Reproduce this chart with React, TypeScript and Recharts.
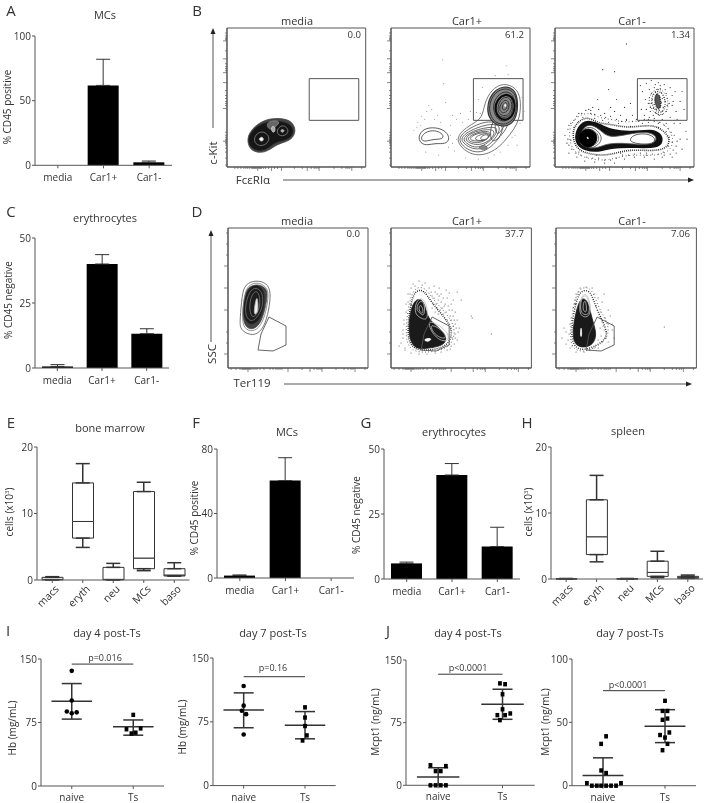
import React from "react";
import {
  BarChart, Bar, ComposedChart, Line, ScatterChart, Scatter, XAxis, YAxis, ErrorBar, ReferenceArea, ReferenceLine,
} from "recharts";

type Pt = [number, number];

const FONT = "'Open Sans', sans-serif";
const INK = "#333";
const AXIS = "#555";

// ---- bar panels
const treatments = ["media", "Car1+", "Car1-"];
const mcsAValues = [0, 61.8, 2.3];
const mcsATops = [0, 82, 3.3];
const eryCValues = [0.6, 40, 13.2];
const eryCTops = [1.3, 43.6, 15.1];
const mcsFValues = [1.5, 60.4, 0];
const mcsFTops = [1.9, 74.6, 0];
const eryGValues = [6, 40, 12.5];
const eryGTops = [6.5, 44.4, 19.9];

// ---- box panels
const cellTypes = ["macs", "eryth", "neu", "MCs", "baso"];
const marrowMin = [0, 4.9, 0, 1.4, 0.6];
const marrowQ1 = [0.03, 6.3, 0.03, 1.7, 0.6];
const marrowMedian = [0.1, 8.8, 0.1, 3.3, 0.75];
const marrowQ3 = [0.4, 14.6, 1.9, 13.3, 1.7];
const marrowMax = [0.5, 17.5, 2.5, 14.7, 2.6];
const spleenMin = [0, 2.6, 0, 0.2, 0.1];
const spleenQ1 = [0, 3.7, 0, 0.4, 0.12];
const spleenMedian = [0.03, 6.4, 0.03, 1, 0.2];
const spleenQ3 = [0.06, 12, 0.06, 2.7, 0.4];
const spleenMax = [0.06, 15.7, 0.06, 4.2, 0.6];

// ---- dot panels: [group position with jitter, value]
const hb4Naive: Pt[] = [[1, 136], [1, 101], [0.92, 88], [1, 86], [1.08, 87]];
const hb4Ts: Pt[] = [[2, 84], [1.89, 67], [1.97, 62], [2.04, 63], [2.12, 68]];
const hb7Naive: Pt[] = [[1, 117], [1, 94], [0.97, 88], [1.04, 84], [1, 60]];
const hb7Ts: Pt[] = [[2, 92], [2, 80], [2, 70], [2.03, 59], [1.96, 53]];
const mcpt4Naive: Pt[] = [[0.88, 24], [1.12, 23], [0.96, 17], [1.04, 17], [0.88, 0], [0.96, 0], [1.04, 0], [1.12, 0]];
const mcpt4Ts: Pt[] = [[1.96, 122], [2.04, 121], [2, 109], [2, 91], [1.92, 84], [1.96, 78], [2.04, 84], [2.12, 86]];
const mcpt7Naive: Pt[] = [
  [1.05, 39], [0.97, 33], [0.97, 12], [1.05, 10], [0.74, 2], [1.29, 2],
  [0.82, 0], [0.9, 0], [0.97, 0], [1.05, 0], [1.13, 0], [1.21, 0],
];
const mcpt7Ts: Pt[] = [
  [2, 67], [1.96, 59], [2.04, 59], [1.96, 52], [2.04, 53], [2.07, 42], [1.92, 40], [2, 38], [2.04, 33], [1.96, 28],
];
// mean, sd below, sd above
const hb4Summary = [[100, 21, 21], [70, 10, 8]];
const hb7Summary = [[89, 21, 20], [71, 16, 16]];
const mcpt4Summary = [[10, 10, 11], [97, 18, 18]];
const mcpt7Summary = [[8, 8, 14], [47, 13, 13]];

// ---- flow panels, read along the axes (0..140, y from the top)
const flowGate = [83, 133, 51, 93];
const bXTicks = [8, 11, 14, 17, 19, 21, 23, 25, 26, 27, 28, 29, 30, 31, 32, 33, 34, 35, 37, 39, 42, 45, 48, 51, 55, 68, 76, 81, 85, 88, 90, 92, 93, 108, 116, 120, 122, 124, 126, 136];
const bYTicks = [5, 8, 10, 11, 12, 13, 23, 31, 36, 39, 41, 43, 45, 55, 63, 68, 71, 74, 76, 78, 81, 105, 108, 110, 112, 113, 114, 115, 116, 118, 121, 125, 131, 138];
const bMajors = [31, 55, 93, 126, 13, 45, 81, 114];
const dXTicks = [3, 8, 12, 14, 15, 16, 17, 18, 19, 20, 21, 22, 23, 25, 27, 29, 32, 36, 42, 45, 48, 50, 52, 54, 60, 74, 82, 86, 89, 91, 93, 94, 108, 116, 120, 123, 125, 127, 137];
const dYTicks = [5, 16, 27, 38, 60, 82, 104, 115, 126];
const dMajors = [20, 60, 94, 127, 38, 82, 126];
const ssclGate: Pt[] = [[41, 89], [58, 98], [58, 117], [45, 123], [30, 122], [33, 106]];

const bMediaOuter: Pt[] = [[20, 112], [24, 103], [33, 95], [44, 91], [56, 91], [66, 94], [70, 104], [65, 113], [54, 116], [48, 119], [41, 124], [33, 126], [23, 123]];
const bMediaMid: Pt[] = [[21, 112], [25, 104], [33, 97], [45, 94], [55, 94], [64, 97], [68, 104], [63, 112], [52, 114], [46, 117], [40, 122], [33, 124], [24, 121]];
const bMediaRingL: Pt[] = [[27, 112], [30, 106], [36, 104], [41, 107], [43, 112], [40, 117], [34, 119], [29, 117]];
const bMediaCoreL: Pt[] = [[32, 112], [34, 110], [36, 110], [37, 112], [36, 114], [34, 114]];
const bMediaRingR: Pt[] = [[50, 104], [53, 99], [58, 98], [62, 102], [61, 107], [56, 109], [52, 108]];
const bMediaCoreR: Pt[] = [[54, 103], [56, 102], [58, 103], [57, 105], [55, 105]];
const bMediaBridge: Pt[] = [[44, 100], [48, 98], [49, 104], [46, 106]];
const bMediaGrey: Pt[] = [[40, 96], [46, 93], [54, 94], [50, 99], [44, 103], [41, 100]];

const bPlusSmallOuter: Pt[] = [[27, 111], [31, 103], [39, 100], [50, 101], [57, 106], [59, 112], [55, 117], [45, 116], [37, 118], [31, 117]];
const bPlusSmallInner: Pt[] = [[30, 111], [33, 106], [40, 103], [48, 104], [53, 108], [52, 112], [43, 112], [36, 114], [32, 114]];
const bPlusOuter: Pt[] = [[66, 112], [71, 104], [81, 97], [92, 91], [94, 76], [101, 62], [113, 55], [126, 60], [131, 71], [130, 90], [124, 102], [116, 112], [108, 121], [95, 128], [82, 128], [71, 121]];
const bPlusLow: Pt[][] = [
  [[68, 112], [73, 105], [83, 99], [95, 94], [108, 95], [113, 99], [111, 108], [103, 118], [93, 125], [82, 125], [72, 119]],
  [[70, 112], [75, 106], [85, 101], [97, 97], [107, 97], [110, 101], [107, 109], [100, 117], [92, 122], [82, 122], [74, 117]],
  [[72, 112], [78, 106], [88, 102], [98, 100], [106, 100], [107, 103], [104, 110], [97, 116], [90, 120], [82, 120], [76, 116]],
  [[74, 112], [80, 106], [90, 103], [100, 102], [105, 104], [102, 111], [95, 116], [87, 118], [79, 116]],
  [[76, 112], [82, 107], [91, 104], [100, 104], [100, 109], [94, 114], [87, 116], [81, 115]],
  [[78, 112], [84, 107], [93, 105], [100, 106], [98, 111], [92, 114], [84, 114]],
  [[83, 112], [88, 108], [95, 106], [99, 107], [96, 112], [90, 114]],
  [[100, 98], [106, 90], [114, 88], [120, 92], [116, 102], [108, 112], [100, 116]],
  [[104, 96], [108, 92], [116, 92], [114, 100], [106, 110]],
];
const bPlusLowCore: Pt[] = [[89, 111], [94, 107], [99, 108], [97, 112], [92, 113]];
const bPlusLowPatch: Pt[] = [[87, 121], [93, 117], [99, 121], [93, 123]];
const bPlusUpperBase: Pt[] = [[96, 82], [101, 65], [113, 58], [124, 61], [128, 72], [127, 90], [119, 99], [108, 99], [100, 93]];
const bPlusUpper: Pt[][] = [
  [[98, 82], [102, 67], [113, 60], [123, 63], [127, 72], [126, 89], [118, 97], [108, 97], [102, 92]],
  [[102, 82], [105, 70], [114, 63], [122, 66], [125, 74], [124, 87], [117, 94], [108, 94]],
  [[105, 81], [108, 71], [115, 67], [122, 70], [123, 78], [122, 86], [116, 91], [108, 89]],
  [[107, 81], [110, 72], [116, 69], [121, 72], [122, 79], [120, 86], [115, 89], [109, 87]],
  [[109, 80], [112, 74], [116, 72], [119, 75], [119, 80], [117, 84], [113, 86], [110, 84]],
  [[112, 79], [114, 75], [117, 75], [117, 80], [115, 83], [112, 82]],
];
const bPlusUpperBold: Pt[] = [[104, 82], [107, 72], [115, 66], [122, 69], [125, 76], [124, 86], [118, 93], [109, 92]];
const bPlusUpperCore: Pt[] = [[113, 78], [115, 75], [117, 78], [115, 81]];
const bPlusDots: Pt[] = [
  [27, 95], [31, 89], [36, 84], [38, 78], [41, 82], [34, 92], [30, 98], [44, 92], [50, 95], [55, 75], [53, 56], [47, 88], [60, 98],
  [62, 88], [66, 92], [72, 95], [78, 92], [26, 100], [23, 103], [35, 125], [48, 128], [58, 120], [62, 116], [64, 124], [75, 131], [88, 132],
  [98, 131], [110, 125], [118, 118], [125, 108], [130, 96], [134, 84], [132, 70], [118, 47], [116, 38], [105, 48], [92, 60], [88, 72], [86, 85],
  [52, 32], [66, 112], [60, 108], [70, 86], [80, 84], [90, 86], [122, 110], [127, 118], [104, 128],
];

const bMinusHaloOuter: Pt[] = [[13, 104], [19, 91], [33, 84], [45, 91], [58, 92], [73, 96], [97, 91], [111, 96], [121, 112], [115, 126], [97, 129], [73, 127], [53, 134], [33, 132], [17, 125]];
const bMinusHalo: Pt[] = [[17, 104], [23, 94], [33, 89], [43, 96], [57, 97], [73, 101], [97, 97], [108, 102], [117, 112], [112, 122], [97, 124], [73, 122], [53, 129], [33, 127], [20, 121]];
const bMinusBand: Pt[] = [[20, 107], [26, 96], [35, 93], [47, 98], [57, 103], [77, 105], [97, 102], [106, 106], [109, 114], [103, 121], [80, 120], [58, 120], [43, 125], [30, 123], [22, 118]];
const bMinusWhite: Pt[] = [[24, 111], [29, 99], [37, 97], [46, 103], [54, 111], [73, 107], [93, 104], [103, 109], [101, 116], [88, 118], [72, 116], [53, 116], [43, 121], [33, 121], [26, 118]];
const bMinusRings: Pt[][] = [
  [[23, 111], [28, 102], [35, 99], [43, 103], [48, 111], [44, 118], [35, 122], [27, 118]],
  [[25, 111], [29, 103], [35, 101], [42, 105], [45, 111], [42, 117], [34, 120], [28, 117]],
];
const bMinusDisc: Pt[] = [[23, 111], [27, 103], [34, 101], [41, 105], [43, 111], [40, 118], [33, 121], [27, 118]];
const bMinusCore: Pt[] = [[32, 110], [33, 110], [34, 111], [33, 112]];
const bMinusRight: Pt[] = [[75, 112], [80, 107], [93, 106], [102, 111], [99, 117], [85, 117], [77, 115]];
const bMinusCloudHalo: Pt[] = [[93, 69], [103, 59], [113, 66], [115, 82], [107, 89], [97, 84]];
const bMinusCloudMid: Pt[] = [[96, 70], [103, 62], [110, 67], [112, 80], [106, 87], [99, 81]];
const bMinusCloudCore: Pt[] = [[100, 70], [103, 65], [106, 69], [107, 79], [104, 83], [101, 77]];
const bMinusDots: Pt[] = [
  [92, 56], [97, 53], [104, 55], [110, 57], [116, 60], [121, 64], [88, 64], [91, 72], [87, 82], [90, 88], [94, 92], [100, 91], [108, 92], [116, 90], [122, 84], [126, 74],
  [119, 74], [118, 68], [95, 62], [100, 60], [106, 61], [111, 62], [94, 76], [96, 80], [111, 74], [113, 78], [112, 84], [102, 86], [105, 88], [99, 88], [92, 82], [118, 78],
  [128, 64], [130, 82], [86, 58], [123, 92], [126, 96], [120, 96], [112, 96], [104, 96], [72, 92], [66, 88], [60, 84], [56, 80], [50, 86], [44, 82], [38, 80], [34, 82],
  [78, 88], [82, 92], [70, 80], [76, 76], [62, 72], [54, 62], [43, 72], [48, 42], [60, 44], [72, 16], [126, 112], [128, 122], [122, 126], [118, 130], [108, 130], [100, 132],
  [90, 130], [80, 130], [70, 132], [60, 136], [50, 136], [40, 135], [30, 134], [22, 130], [14, 126], [12, 116], [10, 108], [14, 98], [24, 86], [132, 104], [133, 112],
  [16, 96], [19, 93], [22, 89], [27, 86], [31, 83], [36, 83], [40, 87], [46, 88], [51, 90], [56, 89], [62, 92], [67, 94], [72, 93], [78, 94], [84, 94], [90, 92], [95, 90], [100, 94],
  [105, 95], [110, 98], [114, 101], [117, 105], [120, 108], [123, 114], [122, 119], [119, 123], [116, 127], [110, 128], [104, 127], [98, 127], [92, 128], [86, 126], [80, 127], [74, 128],
  [68, 128], [62, 131], [56, 133], [50, 133], [44, 131], [38, 131], [32, 130], [26, 128], [21, 126], [17, 122], [14, 118], [13, 112], [13, 102], [36, 86], [48, 93], [64, 96], [88, 96],
  [112, 104], [118, 115], [109, 125], [92, 126], [66, 126], [42, 128], [24, 125], [16, 113], [19, 100], [28, 90], [40, 91], [54, 95], [76, 99], [94, 95], [104, 100], [115, 110], [114, 119],
  [101, 64], [104, 62], [107, 65], [99, 67], [102, 68], [105, 69], [108, 71], [98, 72], [101, 73], [104, 74], [107, 75], [110, 70], [97, 76], [100, 77], [103, 78], [106, 79], [109, 80],
  [99, 81], [102, 82], [105, 83], [108, 84], [101, 85], [104, 87], [95, 70], [97, 66], [112, 66], [113, 71], [115, 76], [96, 84], [108, 87], [106, 58], [101, 57],
];

const dMediaOuter: Pt[] = [[12, 92], [14, 67], [17, 56], [28, 52], [39, 55], [43, 64], [41, 82], [36, 100], [27, 108], [17, 105], [12, 100]];
const dMediaNext: Pt[] = [[14, 86], [17, 66], [20, 59], [29, 56], [37, 59], [40, 65], [37, 82], [32, 97], [24, 102], [17, 99]];
const dMediaDark: Pt[] = [[15, 82], [18, 64], [25, 57], [33, 58], [37, 67], [35, 84], [30, 94], [22, 97], [17, 92]];
const dMediaRings: Pt[][] = [
  [[14, 90], [16, 68], [20, 57], [29, 54], [38, 58], [41, 66], [38, 84], [33, 98], [25, 104], [16, 101]],
  [[17, 79], [21, 63], [28, 59], [35, 64], [35, 79], [29, 90], [23, 94], [18, 89]],
  [[21, 77], [24, 66], [29, 62], [32, 69], [32, 80], [27, 89], [23, 89]],
];
const dMediaCore: Pt[] = [[26, 84], [27, 76], [29, 68], [30, 75], [30, 84], [27, 87]];

const dPlusHalo: Pt[] = [[15, 109], [20, 72], [25, 62], [33, 62], [40, 74], [53, 89], [62, 102], [58, 117], [43, 122], [23, 123]];
const dPlusHaloOuter: Pt[] = [[13, 112], [18, 72], [24, 59], [34, 59], [43, 73], [57, 87], [65, 102], [60, 119], [43, 124], [22, 125]];
const dPlusDark: Pt[] = [[17, 107], [19, 82], [25, 70], [33, 72], [36, 89], [43, 96], [56, 107], [54, 117], [40, 120], [23, 122]];
const dPlusRings: Pt[][] = [
  [[23, 86], [25, 73], [31, 69], [36, 77], [37, 92], [31, 91]],
  [[25, 82], [27, 75], [31, 72], [34, 78], [33, 89], [29, 85]],
  [[27, 82], [29, 76], [32, 80], [32, 87]],
  [[37, 92], [48, 97], [58, 106], [57, 114], [47, 112], [39, 102]],
  [[39, 96], [48, 100], [55, 107], [54, 111], [47, 109], [41, 103]],
];
const dPlusCore: Pt[] = [[32, 112], [37, 110], [41, 111], [37, 114]];
const dPlusDots: Pt[] = [
  [41, 68], [44, 64], [47, 72], [50, 66], [53, 78], [56, 70], [58, 82], [60, 76], [62, 88], [64, 84], [66, 92], [68, 100], [62, 72], [55, 62], [48, 60], [52, 86],
  [46, 80], [42, 76], [60, 92], [64, 96], [61, 110], [64, 106], [66, 112], [60, 118], [56, 122], [70, 72], [80, 88], [81, 90], [100, 106], [67, 104], [58, 65], [66, 64],
  [12, 110], [10, 115], [14, 120], [8, 118], [20, 60], [22, 56], [28, 53], [34, 55], [38, 60], [17, 66], [15, 76], [13, 92], [12, 102],
  [40, 64], [43, 70], [45, 76], [48, 68], [50, 74], [52, 70], [54, 76], [49, 82], [51, 80], [55, 84], [57, 78], [59, 88], [56, 92], [61, 82], [63, 92], [58, 96], [62, 98],
  [65, 100], [44, 84], [47, 86], [41, 80], [43, 58], [46, 66], [60, 100], [64, 110], [63, 116], [59, 121], [50, 124], [44, 125], [36, 126], [28, 126], [20, 125], [14, 122],
  [12, 106], [13, 96], [15, 84], [17, 74], [19, 66], [24, 58], [31, 57],
];

const dMinusHalo: Pt[] = [[14, 106], [20, 72], [25, 62], [35, 62], [40, 82], [54, 106], [44, 116], [30, 122], [19, 121]];
const dMinusHaloOuter: Pt[] = [[13, 108], [18, 72], [24, 59], [36, 59], [42, 80], [53, 96], [52, 112], [32, 124], [17, 123]];
const dMinusDark: Pt[] = [[16, 106], [20, 82], [25, 69], [32, 72], [36, 92], [41, 106], [37, 117], [27, 120], [19, 117]];
const dMinusRings: Pt[][] = [
  [[23, 84], [24, 71], [29, 64], [34, 72], [35, 88], [27, 90]],
  [[24, 82], [25, 71], [29, 66], [33, 72], [34, 87], [27, 87]],
  [[26, 82], [28, 72], [30, 74], [31, 86]],
];
const dMinusCore: Pt[] = [[24, 109], [25, 96], [26, 109]];
const dMinusDots: Pt[] = [
  [38, 66], [42, 70], [46, 74], [40, 78], [44, 84], [49, 90], [52, 82], [46, 94], [52, 96], [56, 102], [48, 102], [58, 110], [36, 60], [30, 59], [24, 60], [20, 66],
  [14, 96], [10, 104], [6, 110], [10, 116], [16, 118], [50, 110], [46, 114], [52, 114], [42, 120], [108, 99], [48, 66], [54, 88], [56, 96], [12, 112], [8, 100],
  [44, 90], [47, 98], [50, 104], [44, 100], [45, 108], [42, 112], [38, 120], [34, 122], [28, 124], [20, 124], [14, 120], [13, 106], [15, 90], [17, 80], [19, 72], [22, 64],
];

// small ones of the rows go through here
const rows = (xs: string[], values: number[], tops: number[]) =>
  xs.map((name, i) => ({ name, value: values[i], err: [0, tops[i] - values[i]] }));

const boxRows = (mins: number[], q1s: number[], meds: number[], q3s: number[], maxs: number[]) =>
  cellTypes.map((name, i) => ({
    name,
    q1: q1s[i],
    q3: q3s[i],
    lowerBox: meds[i] - q1s[i],
    upperBox: q3s[i] - meds[i],
    whiskUp: [0, maxs[i] - q3s[i]],
    whiskDown: [q1s[i] - mins[i], 0],
  }));

const toPoints = (pts: Pt[]) => pts.map(([x, y]) => ({ x, y }));
const summaryRows = (s: number[][]) =>
  s.map(([mean, lo, hi], i) => ({ x: i + 1, y: mean, ey: [lo, hi], ex: 0.33 }));

const PAD_L = 40, PAD_T = 12, PAD_R = 8, PAD_B = 44;
const tickStyle = { fill: INK, fontSize: 10, fontFamily: FONT };
const axisLine = { stroke: AXIS, strokeWidth: 1 };

function Placed({ x0, yTop, children }: any) {
  return <div style={{ position: "absolute", left: x0 - PAD_L, top: yTop - PAD_T }}>{children}</div>;
}
const size = (x0: number, x1: number, yTop: number, yBot: number) => ({
  width: x1 - x0 + PAD_L + PAD_R,
  height: yBot - yTop + PAD_T + PAD_B,
  margin: { top: PAD_T, right: PAD_R, left: 0, bottom: 0 },
});

function BarPanel({ x0, x1, yTop, yBot, max, ticks, data }: any) {
  return (
    <Placed x0={x0} yTop={yTop}>
      <BarChart {...size(x0, x1, yTop, yBot)} data={data} barSize={31}>
        <XAxis dataKey="name" height={PAD_B} tick={tickStyle} tickSize={3} tickMargin={6} interval={0} axisLine={axisLine} tickLine={axisLine} />
        <YAxis width={PAD_L} domain={[0, max]} ticks={ticks} tick={tickStyle} tickSize={3} tickMargin={1} axisLine={axisLine} tickLine={axisLine} />
        <Bar dataKey="value" fill="#000" isAnimationActive={false}>
          <ErrorBar dataKey="err" width={7} stroke={INK} strokeWidth={1} direction="y" />
        </Bar>
      </BarChart>
    </Placed>
  );
}

const blankTick = () => <g />;

function BoxPanel({ x0, x1, yTop, yBot, data }: any) {
  const band = (x1 - x0) / cellTypes.length;
  return (
    <>
      <Placed x0={x0} yTop={yTop}>
        <ComposedChart {...size(x0, x1, yTop, yBot)} data={data} barSize={21}>
          <XAxis dataKey="name" height={PAD_B} tick={blankTick} tickSize={3} interval={0} axisLine={axisLine} tickLine={axisLine} />
          <YAxis width={PAD_L} domain={[0, 20]} ticks={[0, 10, 20]} tick={tickStyle} tickSize={3} tickMargin={1} axisLine={axisLine} tickLine={axisLine} />
          <Bar dataKey="q1" stackId="box" fill="transparent" isAnimationActive={false} />
          <Bar dataKey="lowerBox" stackId="box" fill="#fff" stroke={INK} isAnimationActive={false} />
          <Bar dataKey="upperBox" stackId="box" fill="#fff" stroke={INK} isAnimationActive={false} />
          <Line dataKey="q3" stroke="none" dot={false} isAnimationActive={false}>
            <ErrorBar dataKey="whiskUp" width={7} stroke={INK} direction="y" />
          </Line>
          <Line dataKey="q1" stroke="none" dot={false} isAnimationActive={false}>
            <ErrorBar dataKey="whiskDown" width={7} stroke={INK} direction="y" />
          </Line>
        </ComposedChart>
      </Placed>
      {cellTypes.map((name, i) => (
        <div
          key={name}
          style={{
            position: "absolute", left: x0 + band * (i + 0.5) + 5, top: yBot + 7, fontSize: 10.5, color: INK, lineHeight: 1, whiteSpace: "nowrap",
            transformOrigin: "100% 50%", transform: "translate(-100%, -50%) rotate(-45deg)",
          }}
        >
          {name}
        </div>
      ))}
    </>
  );
}

const roundDot = (p: any) => <circle cx={p.cx} cy={p.cy} r={2.3} fill="#000" />;
const squareDot = (p: any) => <rect x={p.cx - 1.9} y={p.cy - 2.2} width={3.8} height={4.4} fill="#000" />;
const noDot = () => <g />;

function DotPanel({ x0, x1, yTop, yBot, max, ticks, first, second, summary, bracket, firstShape }: any) {
  return (
    <Placed x0={x0} yTop={yTop}>
      <ScatterChart {...size(x0, x1, yTop, yBot)}>
        <XAxis type="number" dataKey="x" domain={[0.5, 2.5]} ticks={[1, 2]} tickFormatter={(v: number) => (v === 1 ? "naive" : "Ts")} height={PAD_B} tick={tickStyle} tickSize={3} tickMargin={5} interval={0} axisLine={axisLine} tickLine={axisLine} />
        <YAxis type="number" dataKey="y" width={PAD_L} domain={[0, max]} ticks={ticks} tick={tickStyle} tickSize={3} tickMargin={1} axisLine={axisLine} tickLine={axisLine} />
        <ReferenceLine segment={[{ x: 1, y: bracket }, { x: 2, y: bracket }]} stroke={INK} ifOverflow="visible" />
        <Scatter data={summaryRows(summary)} shape={noDot} isAnimationActive={false}>
          <ErrorBar dataKey="ey" direction="y" width={10} stroke={INK} />
          <ErrorBar dataKey="ex" direction="x" width={0} stroke={INK} />
        </Scatter>
        <Scatter data={toPoints(first)} shape={firstShape} isAnimationActive={false} />
        <Scatter data={toPoints(second)} shape={squareDot} isAnimationActive={false} />
      </ScatterChart>
    </Placed>
  );
}

type RingStyle = { stroke?: string; width?: number; fill?: string; dash?: string; joint?: any };
const ring = (pts: Pt[], key: string, s: RingStyle = {}) => (
  <Scatter
    key={key}
    data={toPoints(pts)}
    shape={noDot}
    line={{ stroke: s.stroke ?? "#333", strokeWidth: s.width ?? 0.8, fill: s.fill ?? "none", strokeDasharray: s.dash }}
    lineJointType={s.joint ?? "basisClosed"}
    isAnimationActive={false}
  />
);
const speck = (pts: Pt[], key: string, fill = "#555", r = 0.55) => (
  <Scatter key={key} data={toPoints(pts)} shape={(p: any) => <circle cx={p.cx} cy={p.cy} r={r} fill={fill} />} isAnimationActive={false} />
);

function FlowPanel({ x0, x1, yTop, yBot, xTicks, yTicks, majors, gate, series }: any) {
  const xTick = (p: any) => (
    <line x1={p.x} y1={p.y} x2={p.x} y2={p.y + (majors.includes(p.payload.value) ? 4 : 2)} stroke={AXIS} strokeWidth={0.7} />
  );
  const yTick = (p: any) => (
    <line x1={p.x} y1={p.y} x2={p.x - (majors.includes(p.payload.value) ? 4 : 2)} y2={p.y} stroke={AXIS} strokeWidth={0.7} />
  );
  return (
    <Placed x0={x0} yTop={yTop}>
      <ScatterChart {...size(x0, x1, yTop, yBot)}>
        <XAxis type="number" dataKey="x" domain={[0, 140]} ticks={xTicks} tick={xTick} tickLine={false} tickSize={0} tickMargin={0} interval={0} height={PAD_B} axisLine={axisLine} />
        <YAxis type="number" dataKey="y" reversed domain={[0, 140]} ticks={yTicks} tick={yTick} tickLine={false} tickSize={0} tickMargin={0} interval={0} width={PAD_L} axisLine={axisLine} />
        <ReferenceArea x1={0} x2={140} y1={0} y2={140} fill="none" stroke={AXIS} strokeWidth={1} />
        {series}
        {gate && <ReferenceArea x1={gate[0]} x2={gate[1]} y1={gate[2]} y2={gate[3]} fill="none" stroke={AXIS} strokeWidth={1} />}
      </ScatterChart>
    </Placed>
  );
}

function Txt({ x, y, size: s = 10, rot = 0, right = false, color = INK, children }: any) {
  return (
    <div
      style={{
        position: "absolute", left: x, top: y, fontSize: s, color, whiteSpace: "nowrap", lineHeight: 1,
        transform: `translate(${right ? "-100%" : "-50%"}, -50%) rotate(${rot}deg)`,
      }}
    >
      {children}
    </div>
  );
}

const LETTER = 15;
const TITLE = 11;
const SUB = 11;
const VALUE = 9.6;
const PVAL = 9;

export default function App() {
  const gateLine = { stroke: AXIS, width: 0.9, joint: "linearClosed" };
  return (
    <div style={{ position: "absolute", left: 0, top: 0, width: 704, height: 803, overflow: "hidden", background: "#fff", fontFamily: FONT, filter: "blur(0.3px)" }}>
      <BarPanel x0={35} x1={172} yTop={35.7} yBot={165} max={100} ticks={[0, 50, 100]} data={rows(treatments, mcsAValues, mcsATops)} />
      <BarPanel x0={35} x1={169} yTop={237.7} yBot={367.7} max={50} ticks={[0, 25, 50]} data={rows(treatments, eryCValues, eryCTops)} />
      <BarPanel x0={217} x1={354} yTop={449} yBot={578} max={80} ticks={[0, 40, 80]} data={rows(treatments, mcsFValues, mcsFTops)} />
      <BarPanel x0={384} x1={520} yTop={449} yBot={579} max={50} ticks={[0, 25, 50]} data={rows(treatments, eryGValues, eryGTops)} />

      <BoxPanel x0={37} x1={189.5} yTop={447} yBot={580} data={boxRows(marrowMin, marrowQ1, marrowMedian, marrowQ3, marrowMax)} />
      <BoxPanel x0={551} x1={703} yTop={447} yBot={579} data={boxRows(spleenMin, spleenQ1, spleenMedian, spleenQ3, spleenMax)} />

      <DotPanel x0={41} x1={164} yTop={659} yBot={786} max={150} ticks={[0, 75, 150]} first={hb4Naive} second={hb4Ts} summary={hb4Summary} bracket={144} firstShape={roundDot} />
      <DotPanel x0={213} x1={335.7} yTop={657.7} yBot={785.3} max={150} ticks={[0, 75, 150]} first={hb7Naive} second={hb7Ts} summary={hb7Summary} bracket={128} firstShape={roundDot} />
      <DotPanel x0={406} x1={534.7} yTop={660} yBot={785.3} max={150} ticks={[0, 75, 150]} first={mcpt4Naive} second={mcpt4Ts} summary={mcpt4Summary} bracket={133} firstShape={squareDot} />
      <DotPanel x0={572} x1={696} yTop={659} yBot={785.7} max={100} ticks={[0, 50, 100]} first={mcpt7Naive} second={mcpt7Ts} summary={mcpt7Summary} bracket={75} firstShape={squareDot} />

      <FlowPanel x0={227.3} x1={366} yTop={27.7} yBot={166.7} xTicks={bXTicks} yTicks={bYTicks} majors={bMajors} gate={flowGate}
        series={[
          ring(bMediaOuter, "a", { stroke: "#444", fill: "#444" }),
          ring(bMediaMid, "b", { stroke: "#222", fill: "#161616" }),
          ring(bMediaGrey, "h", { stroke: "#888", fill: "#666" }),
          ring(bMediaBridge, "c", { stroke: "#ccc", fill: "#aaa" }),
          ring(bMediaRingL, "d", { stroke: "#888" }),
          ring(bMediaCoreL, "e", { stroke: "#bbb", fill: "#fff" }),
          ring(bMediaRingR, "f", { stroke: "#888" }),
          ring(bMediaCoreR, "g", { stroke: "#aaa", fill: "#bbb" }),
        ]} />
      <FlowPanel x0={391.3} x1={530.3} yTop={27.7} yBot={166.7} xTicks={bXTicks} yTicks={bYTicks} majors={bMajors} gate={flowGate}
        series={[
          speck(bPlusDots, "dots", "#999"),
          ring(bPlusSmallOuter, "a"),
          ring(bPlusSmallInner, "b"),
          ring(bPlusOuter, "c", { stroke: "#555" }),
          ...bPlusLow.map((r, i) => ring(r, "l" + i, { stroke: "#444" })),
          ring(bPlusLowPatch, "p", { stroke: "#666", fill: "#888" }),
          ring(bPlusLowCore, "q", { stroke: "#444", fill: "#fff" }),
          ring(bPlusUpperBase, "x", { stroke: "#333", fill: "#888", width: 1.2 }),
          ...bPlusUpper.map((r, i) => ring(r, "u" + i, { stroke: "#333", width: 1 })),
          ring(bPlusUpperBold, "v", { stroke: "#0c0c0c", width: 2 }),
          ring(bPlusUpperCore, "w", { stroke: "#777", fill: "#fff" }),
        ]} />
      <FlowPanel x0={555.3} x1={694.3} yTop={27.7} yBot={166.7} xTicks={bXTicks} yTicks={bYTicks} majors={bMajors} gate={flowGate}
        series={[
          speck(bMinusDots, "dots", "#333", 0.6),
          ring(bMinusHaloOuter, "h0", { stroke: "#444", width: 1, dash: "0.8 2.7" }),
          ring(bMinusHalo, "h1", { stroke: "#222", width: 1.6, dash: "0.9 1.1" }),
          ring(bMinusBand, "h2", { stroke: "#111", fill: "#111", width: 1.5 }),
          ring(bMinusWhite, "h3", { stroke: "#555", fill: "#fff" }),
          ...bMinusRings.map((r, i) => ring(r, "r" + i, { stroke: "#444" })),
          ring(bMinusDisc, "h4", { stroke: "#000", fill: "#000" }),
          ring(bMinusCore, "h5", { stroke: "#fff", fill: "#fff" }),
          ring(bMinusRight, "h6", { stroke: "#333", fill: "#fff" }),
          ring(bMinusCloudHalo, "g0", { stroke: "#444", width: 1, dash: "0.8 2" }),
          ring(bMinusCloudMid, "g1", { stroke: "#333", width: 1.2, dash: "0.9 1.4" }),
          ring(bMinusCloudCore, "g2", { stroke: "#222", fill: "#555", width: 1.4, dash: "1 1" }),
        ]} />

      <FlowPanel x0={228.3} x1={368.3} yTop={227.7} yBot={367.7} xTicks={dXTicks} yTicks={dYTicks} majors={dMajors}
        series={[
          ring(dMediaOuter, "a", { stroke: "#555", fill: "#fff" }),
          ring(dMediaNext, "b", { stroke: "#444", fill: "#444" }),
          ring(dMediaDark, "c", { stroke: "#222", fill: "#1c1c1c" }),
          ...dMediaRings.map((r, i) => ring(r, "r" + i, { stroke: "#777" })),
          ring(dMediaCore, "d", { stroke: "#bbb", fill: "#eee" }),
          ring(ssclGate, "g", gateLine),
        ]} />
      <FlowPanel x0={391.3} x1={531.7} yTop={227.7} yBot={367.7} xTicks={dXTicks} yTicks={dYTicks} majors={dMajors}
        series={[
          speck(dPlusDots, "dots", "#444"),
          ring(dPlusHaloOuter, "h", { stroke: "#444", width: 1, dash: "0.8 2.4" }),
          ring(dPlusHalo, "a", { stroke: "#222", width: 1.5, dash: "0.9 1.2" }),
          ring(dPlusDark, "b", { stroke: "#1a1a1a", fill: "#1a1a1a" }),
          ...dPlusRings.map((r, i) => ring(r, "r" + i, { stroke: "#bbb" })),
          ring(dPlusCore, "c", { stroke: "#fff", fill: "#fff" }),
          ring(ssclGate, "g", gateLine),
        ]} />
      <FlowPanel x0={556.3} x1={696.7} yTop={227.7} yBot={367.7} xTicks={dXTicks} yTicks={dYTicks} majors={dMajors}
        series={[
          speck(dMinusDots, "dots", "#444"),
          ring(dMinusHaloOuter, "h", { stroke: "#444", width: 1, dash: "0.8 2.4" }),
          ring(dMinusHalo, "a", { stroke: "#222", width: 1.4, dash: "0.9 1.4" }),
          ring(dMinusDark, "b", { stroke: "#1a1a1a", fill: "#1a1a1a" }),
          ...dMinusRings.map((r, i) => ring(r, "r" + i, { stroke: "#bbb" })),
          ring(dMinusCore, "c", { stroke: "#fff", fill: "#fff" }),
          ring(ssclGate, "g", gateLine),
        ]} />

      <svg width={704} height={803} style={{ position: "absolute", left: 0, top: 0, pointerEvents: "none" }}>
        <line x1={213} y1={128} x2={213} y2={32} stroke={AXIS} />
        <polygon points="213,28 210.5,34 215.5,34" fill="#222" />
        <line x1={283} y1={180} x2={690} y2={180} stroke={AXIS} />
        <polygon points="694,180 688,177.5 688,182.5" fill="#222" />
        <line x1={211} y1={342} x2={211} y2={235} stroke={AXIS} />
        <polygon points="211,230 208.5,236 213.5,236" fill="#222" />
        <line x1={284} y1={384} x2={688} y2={384} stroke={AXIS} />
        <polygon points="692,384 686,381.5 686,386.5" fill="#222" />
      </svg>

      <Txt x={11} y={10} size={LETTER}>A</Txt>
      <Txt x={197} y={10} size={LETTER}>B</Txt>
      <Txt x={11} y={211} size={LETTER}>C</Txt>
      <Txt x={197} y={211} size={LETTER}>D</Txt>
      <Txt x={11} y={422} size={LETTER}>E</Txt>
      <Txt x={196} y={422} size={LETTER}>F</Txt>
      <Txt x={366} y={422} size={LETTER}>G</Txt>
      <Txt x={527} y={422} size={LETTER}>H</Txt>
      <Txt x={8} y={630} size={LETTER}>I</Txt>
      <Txt x={388} y={630} size={LETTER}>J</Txt>

      <Txt x={105} y={14} size={TITLE}>MCs</Txt>
      <Txt x={105} y={217} size={TITLE}>erythrocytes</Txt>
      <Txt x={110} y={427} size={TITLE}>bone marrow</Txt>
      <Txt x={287} y={431} size={TITLE}>MCs</Txt>
      <Txt x={454} y={431} size={TITLE}>erythrocytes</Txt>
      <Txt x={628} y={430} size={TITLE}>spleen</Txt>
      <Txt x={107} y={632} size={TITLE}>day 4 post-Ts</Txt>
      <Txt x={273} y={632} size={TITLE}>day 7 post-Ts</Txt>
      <Txt x={468} y={632} size={TITLE}>day 4 post-Ts</Txt>
      <Txt x={630} y={632} size={TITLE}>day 7 post-Ts</Txt>

      <Txt x={297} y={20} size={SUB}>media</Txt>
      <Txt x={467} y={20} size={SUB}>Car1+</Txt>
      <Txt x={632} y={20} size={SUB}>Car1-</Txt>
      <Txt x={297} y={220} size={SUB}>media</Txt>
      <Txt x={467} y={220} size={SUB}>Car1+</Txt>
      <Txt x={632} y={220} size={SUB}>Car1-</Txt>
      <Txt x={361} y={35} size={VALUE} right>0.0</Txt>
      <Txt x={524} y={35} size={VALUE} right>61.2</Txt>
      <Txt x={690} y={35} size={VALUE} right>1.34</Txt>
      <Txt x={360} y={234} size={VALUE} right>0.0</Txt>
      <Txt x={524} y={234} size={VALUE} right>37.7</Txt>
      <Txt x={690} y={234} size={VALUE} right>7.06</Txt>

      <Txt x={213} y={153} size={11.5} rot={-90}>c-Kit</Txt>
      <Txt x={253} y={180} size={11.5}>FcεRIα</Txt>
      <Txt x={212} y={354} size={11.5} rot={-90}>SSC</Txt>
      <Txt x={252} y={383} size={11.5}>Ter119</Txt>

      <Txt x={7} y={107} size={10} rot={-90}>% CD45 positive</Txt>
      <Txt x={8} y={300} size={10} rot={-90}>% CD45 negative</Txt>
      <Txt x={194} y={518} size={10} rot={-90}>% CD45 positive</Txt>
      <Txt x={356} y={515} size={10} rot={-90}>% CD45 negative</Txt>
      <Txt x={9} y={512} size={10} rot={-90}>cells (x10<sup style={{ fontSize: 6 }}>3</sup>)</Txt>
      <Txt x={528} y={512} size={10} rot={-90}>cells (x10<sup style={{ fontSize: 6 }}>3</sup>)</Txt>
      <Txt x={12} y={728} size={10} rot={-90}>Hb (mg/mL)</Txt>
      <Txt x={182} y={727} size={10} rot={-90}>Hb (mg/mL)</Txt>
      <Txt x={375} y={722} size={10} rot={-90}>Mcpt1 (ng/mL)</Txt>
      <Txt x={545} y={722} size={10} rot={-90}>Mcpt1 (ng/mL)</Txt>

      <Txt x={105} y={657} size={PVAL}>p=0.016</Txt>
      <Txt x={273} y={667} size={PVAL}>p=0.16</Txt>
      <Txt x={468} y={667} size={PVAL}>p&lt;0.0001</Txt>
      <Txt x={628} y={684} size={PVAL}>p&lt;0.0001</Txt>
    </div>
  );
}
